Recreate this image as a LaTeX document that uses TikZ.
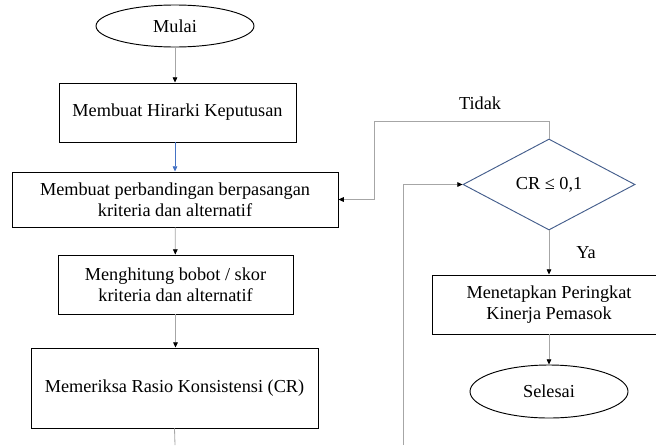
\documentclass[tikz,border=0pt]{standalone}
\usepackage{fontspec}
\setmainfont{Liberation Serif}
\usetikzlibrary{shapes.geometric,arrows.meta}
\definecolor{birugelap}{RGB}{68,94,140}
\definecolor{biru}{RGB}{68,114,196}

\begin{document}
\begin{tikzpicture}[
  x=0.03cm, y=-0.03cm,
  font=\fontsize{15.6}{17.5}\selectfont,
  kotak/.style={draw, line width=0.8pt, align=center, inner sep=0pt},
  oval/.style={draw, ellipse, line width=0.8pt, inner sep=0pt},
  belah/.style={draw=birugelap, diamond, line width=0.8pt, inner sep=0pt, shape aspect=1.89},
  garis/.style={draw=black!35, line width=0.7pt},
  panah/.style={garis, -{Triangle[length=4.5pt,width=4pt,color=black]}}]
  \useasboundingbox (0,0) rectangle (656,445);
  % kolom kiri
  \node[oval, minimum width=4.74cm, minimum height=1.26cm] (mulai) at (175,26) {Mulai};
  \node[kotak, minimum width=7.11cm, minimum height=1.77cm] (hirarki) at (177.5,112.5) {Membuat Hirarki Keputusan};
  \node[kotak, minimum width=9.78cm, minimum height=1.65cm] (banding) at (175,199.5) {Membuat perbandingan berpasangan\\kriteria dan alternatif};
  \node[kotak, minimum width=7.05cm, minimum height=1.77cm] (hitung) at (175.5,284.5) {Menghitung bobot / skor\\kriteria dan alternatif};
  \node[kotak, minimum width=8.61cm, minimum height=2.4cm] (periksa) at (174.5,388) {Memeriksa Rasio Konsistensi (CR)};
  % kolom kanan
  \node[belah, minimum width=5.16cm, minimum height=2.73cm] (cr) at (549,184.5) {CR ≤ 0,1};
  \node[kotak, minimum width=7.02cm, minimum height=1.77cm] (tetap) at (549,304.5) {Menetapkan Peringkat\\Kinerja Pemasok};
  \node[oval, minimum width=4.74cm, minimum height=1.59cm] (selesai) at (549,391.5) {Selesai};
  \node (tidak) at (480,103) {Tidak};
  \node (ya) at (586,253) {Ya};
  \coordinate (bawah) at (175,445);
  \coordinate (naik) at (403,445);
  \coordinate (belok) at (374,121);

  \draw[panah] (mulai.south) -- (mulai.south |- hirarki.north);
  \draw[panah, draw=biru, -{Triangle[length=4.5pt,width=4pt,color=biru]}] (hirarki.south -| banding.north) -- (banding.north);
  \draw[panah] (banding) -- (hitung);
  \draw[panah] (hitung.south) -- (hitung.south |- periksa.north);
  \draw[garis] (periksa.south) -- (bawah);
  \draw[panah] (naik) |- (cr.west);
  \draw[panah] (cr.north) |- (belok) |- (banding.east);
  \draw[panah] (cr) -- (tetap);
  \draw[panah] (tetap) -- (selesai);
\end{tikzpicture}
\end{document}
